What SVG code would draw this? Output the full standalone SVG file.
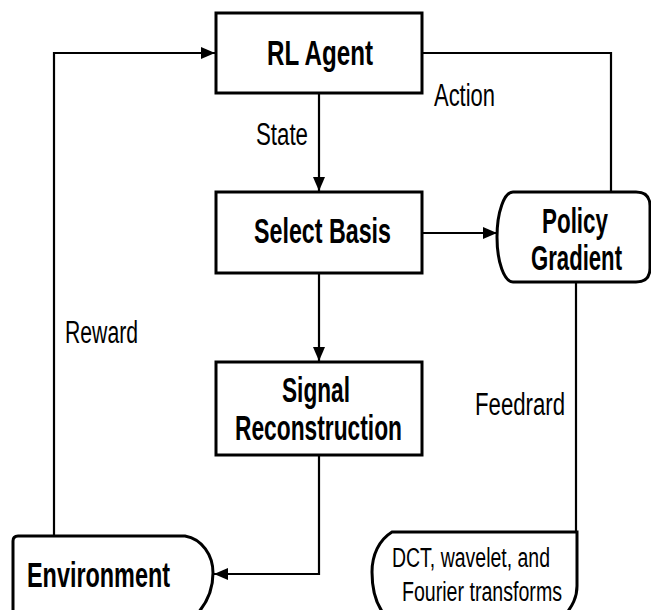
<svg xmlns="http://www.w3.org/2000/svg" width="651" height="610" viewBox="0 0 651 610">
  <style>
    .box { fill: #ffffff; stroke: #000000; stroke-width: 3; }
    .wire { fill: none; stroke: #000000; stroke-width: 2.2; }
    .title { font-family: "Liberation Sans", Arial, sans-serif; font-weight: bold; font-size: 35px; fill: #000000; }
    .label { font-family: "Liberation Sans", Arial, sans-serif; font-size: 31px; fill: #000000; }
    .small { font-family: "Liberation Sans", Arial, sans-serif; font-size: 27px; fill: #000000; }
  </style>
  <defs>
    <marker id="arrow" markerUnits="userSpaceOnUse" markerWidth="14" markerHeight="12" refX="14" refY="6" orient="auto">
      <path d="M0,0 L14,6 L0,12 Z" fill="#000000"/>
    </marker>
  </defs>

  <rect width="651" height="610" fill="#ffffff"/>

  <!-- connectors -->
  <g id="connectors">
    <polyline class="wire" points="54,536 54,53 215,53" marker-end="url(#arrow)"/>
    <polyline class="wire" points="422,53 611,53 611,192"/>
    <line class="wire" x1="319" y1="93" x2="319" y2="191" marker-end="url(#arrow)"/>
    <line class="wire" x1="422" y1="233" x2="497" y2="233" marker-end="url(#arrow)"/>
    <line class="wire" x1="319" y1="273" x2="319" y2="361" marker-end="url(#arrow)"/>
    <polyline class="wire" points="319,455 319,574 214,574" marker-end="url(#arrow)"/>
    <line class="wire" x1="576" y1="282" x2="576" y2="532"/>
    <text class="label" x="256" y="145" textLength="52" lengthAdjust="spacingAndGlyphs">State</text>
    <text class="label" x="434" y="106" textLength="61" lengthAdjust="spacingAndGlyphs">Action</text>
    <text class="label" x="65" y="343" textLength="73" lengthAdjust="spacingAndGlyphs">Reward</text>
    <text class="label" x="475" y="415" textLength="90" lengthAdjust="spacingAndGlyphs">Feedrard</text>
  </g>

  <g id="rl-agent">
    <rect class="box" x="216" y="13" width="206" height="80"/>
    <text class="title" x="267" y="65" textLength="106" lengthAdjust="spacingAndGlyphs">RL Agent</text>
  </g>

  <g id="select-basis">
    <rect class="box" x="216" y="192" width="206" height="81"/>
    <text class="title" x="254" y="243" textLength="137" lengthAdjust="spacingAndGlyphs">Select Basis</text>
  </g>

  <g id="policy-gradient">
    <path class="box" d="M513,192 H636 Q650,192 650,206 V268 Q650,282 636,282 H513 A16 45 0 0 1 513,192 Z"/>
    <text class="title" x="542" y="233" font-size="34" textLength="66" lengthAdjust="spacingAndGlyphs">Policy</text>
    <text class="title" x="531" y="270" font-size="34" textLength="91" lengthAdjust="spacingAndGlyphs">Gradient</text>
  </g>

  <g id="signal-reconstruction">
    <rect class="box" x="216" y="362" width="206" height="93"/>
    <text class="title" x="282" y="402" textLength="68" lengthAdjust="spacingAndGlyphs">Signal</text>
    <text class="title" x="235" y="440" textLength="167" lengthAdjust="spacingAndGlyphs">Reconstruction</text>
  </g>

  <g id="environment">
    <path class="box" d="M18,536 H185 C202,539 213,555 213,573 C213,590 206,604 197,614 H13 V541 Q13,536 18,536 Z"/>
    <text class="title" x="27" y="587" textLength="143" lengthAdjust="spacingAndGlyphs">Environment</text>
  </g>

  <g id="transforms">
    <path class="box" d="M392,532 H577 V586 C577,598 572,606 566,614 H384 C376,604 372,588 372,572 C372,555 379,540 392,532 Z"/>
    <text class="small" x="392" y="567" textLength="158" lengthAdjust="spacingAndGlyphs">DCT, wavelet, and</text>
    <text class="small" x="402" y="601" font-size="29" textLength="160" lengthAdjust="spacingAndGlyphs">Fourier transforms</text>
  </g>
</svg>
